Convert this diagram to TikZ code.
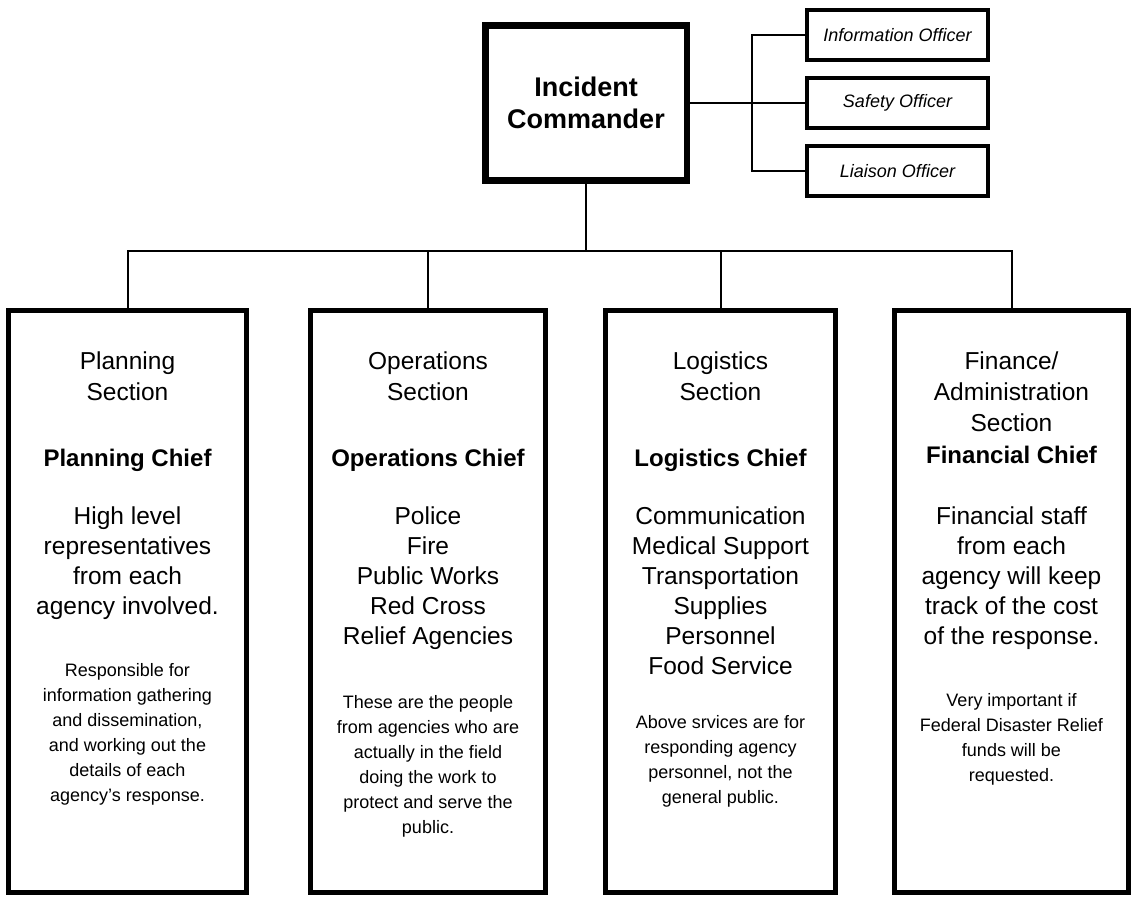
\documentclass[tikz,border=0pt]{standalone}
\usepackage{fontspec}
\setmainfont{Liberation Sans}
\usetikzlibrary{positioning,calc}

\newcommand{\titlefont}{\fontsize{24.5}{31}\selectfont}
\newcommand{\chieffont}{\fontsize{24}{30}\selectfont\bfseries}
\newcommand{\listfont}{\fontsize{24.5}{30}\selectfont}
\newcommand{\notefont}{\fontsize{18}{25}\selectfont}

\begin{document}
\begin{tikzpicture}[x=1pt,y=-1pt,
  cmdbox/.style={draw, line width=6.5pt, minimum width=201.5pt, minimum height=154.5pt, inner sep=0pt, align=center, font=\fontsize{27}{32}\selectfont\bfseries},
  offbox/.style={draw, line width=4pt, minimum width=181pt, minimum height=50pt, inner sep=0pt, font=\fontsize{18}{21}\selectfont\itshape},
  secbox/.style={draw, line width=5pt, minimum height=582pt, inner sep=0pt},
  sectext/.style={anchor=base, text width=226pt, align=flush center, inner sep=0pt},
  link/.style={line width=2pt}]
\useasboundingbox (0,0) rectangle (1136,907);

% commander and officers
\node[cmdbox] (ic) at (586,103) {Incident\\Commander};
\node[offbox] (info) at (897.5,35.5) {Information Officer};
\node[offbox, below=13.5pt of info] (saf) {Safety Officer};
\node[offbox, below=14pt of saf] (liai) {Liaison Officer};

% sections
\node[secbox, minimum width=238pt] (plan) at (127.5,601.5) {};
\node[secbox, minimum width=235pt, right=59pt of plan] (ops) {};
\node[secbox, minimum width=230pt, right=55pt of ops] (log) {};
\node[secbox, minimum width=234pt, right=54pt of log] (fin) {};

\node[sectext] (plantext) at (plan.center |- 0,369) {%
  {\titlefont Planning\\Section\par}\vspace{36pt}
  {\chieffont Planning Chief\par}\vspace{28pt}
  {\listfont High level\\representatives\\from each\\agency involved.\par}\vspace{37pt}
  {\notefont Responsible for\\information gathering\\and dissemination,\\and working out the\\details of each\\agency's response.\par}};
\node[sectext] (opstext) at (ops.center |- 0,369) {%
  {\titlefont Operations\\Section\par}\vspace{36pt}
  {\chieffont Operations Chief\par}\vspace{28pt}
  {\listfont Police\\Fire\\Public Works\\Red Cross\\Relief Agencies\par}\vspace{39pt}
  {\notefont These are the people\\from agencies who are\\actually in the field\\doing the work to\\protect and serve the\\public.\par}};
\node[sectext] (logtext) at (log.center |- 0,369) {%
  {\titlefont Logistics\\Section\par}\vspace{36pt}
  {\chieffont Logistics Chief\par}\vspace{28pt}
  {\listfont Communication\\Medical Support\\Transportation\\Supplies\\Personnel\\Food Service\par}\vspace{29pt}
  {\notefont Above srvices are for\\responding agency\\personnel, not the\\general public.\par}};
\node[sectext] (fintext) at (fin.center |- 0,369) {%
  {\titlefont Finance/\\Administration\\Section\par}\vspace{2pt}
  {\chieffont Financial Chief\par}\vspace{31pt}
  {\listfont Financial staff\\from each\\agency will keep\\track of the cost\\of the response.\par}\vspace{37pt}
  {\notefont Very important if\\Federal Disaster Relief\\funds will be\\requested.\par}};

% connectors
\coordinate (bus) at (586,251);
\coordinate (brk) at (752,103);
\draw[link] (ic.south) -- (bus);
\draw[link] (plan.north) |- (bus) -| (fin.north);
\draw[link] (ops.north) -- (ops.north |- bus);
\draw[link] (log.north) -- (log.north |- bus);
\draw[link] (ic.east) -- (saf.west);
\draw[link] (info.west) -| (brk) |- (liai.west);
\end{tikzpicture}
\end{document}
